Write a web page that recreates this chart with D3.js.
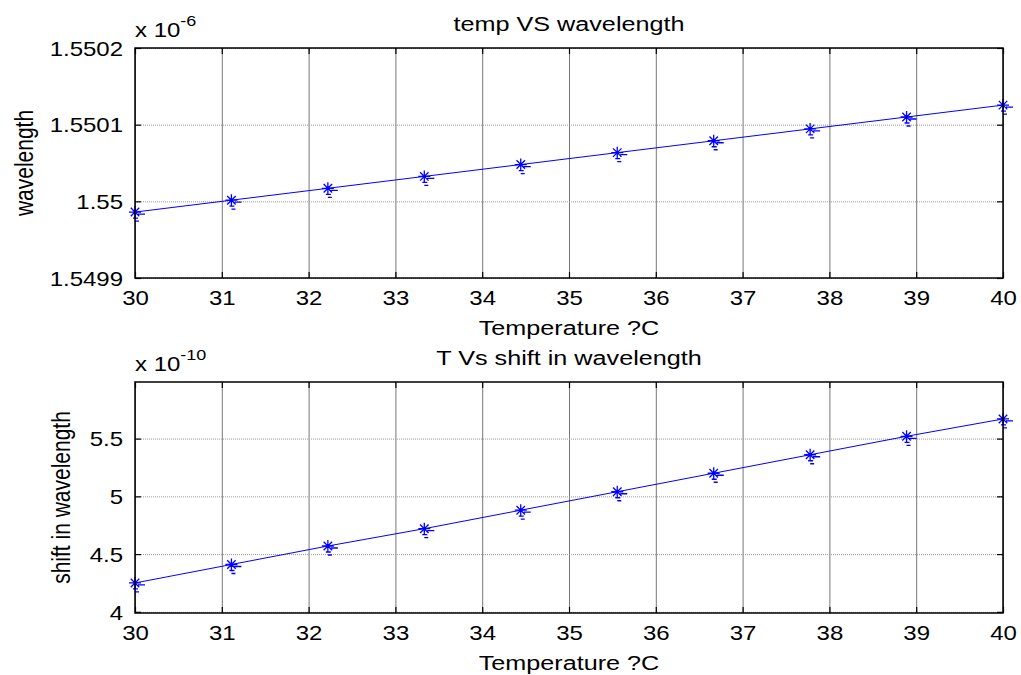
<!DOCTYPE html>
<html>
<head>
<meta charset="utf-8">
<script src="https://cdn.jsdelivr.net/npm/d3@7"></script>
<style>
  body { margin: 0; background: #fff; }
  svg { display: block; font-family: "Liberation Sans", Arial, sans-serif; }
</style>
</head>
<body>
<svg id="fig" width="1021" height="675"></svg>
<script>
// temperature samples (linspace 30..40, 10 points)
var temps = [30, 31.111, 32.222, 33.333, 34.444, 35.556, 36.667, 37.778, 38.889, 40];
// wavelength, units of 1e-6
var wavelength = [1.549986, 1.5500015, 1.550017, 1.5500325, 1.550048, 1.5500635, 1.550079, 1.5500945, 1.55011, 1.5501255];
// shift in wavelength, units of 1e-10
var shift = [4.25, 4.41, 4.57, 4.72, 4.88, 5.04, 5.20, 5.36, 5.52, 5.67];

var xTicks = [30, 31, 32, 33, 34, 35, 36, 37, 38, 39, 40];
var wlTicks = [1.5499, 1.55, 1.5501, 1.5502];
var shiftTicks = [4, 4.5, 5, 5.5];

var svg = d3.select("#fig"),
    left = 135, right = 1003,
    sx = 1.2; // the source figure is stretched sideways

var x = d3.scaleLinear().domain([30, 40]).range([left, right]);

function panel(opt) {
  var y = d3.scaleLinear().domain(opt.domain).range([opt.bottom, opt.top]);
  var h = opt.bottom - opt.top;
  var g = svg.append("g");

  // grid
  g.append("g")
      .attr("transform", "translate(0," + opt.bottom + ")")
      .call(d3.axisBottom(x).tickValues(xTicks).tickSize(-h).tickFormat(""))
      .call(function (a) {
        a.select(".domain").remove();
        a.selectAll("line").attr("stroke", "#777").attr("stroke-width", 1);
      });
  g.append("g")
      .attr("transform", "translate(" + left + ",0)")
      .call(d3.axisLeft(y).tickValues(opt.ticks).tickSize(-(right - left)).tickFormat(""))
      .call(function (a) {
        a.select(".domain").remove();
        a.selectAll("line").attr("stroke", "#999").attr("stroke-dasharray", "1,1");
      });

  // line + markers
  var pts = temps.map(function (t, i) { return [t, opt.values[i]]; });
  g.append("path")
      .datum(pts)
      .attr("fill", "none")
      .attr("stroke", "#0000ff")
      .attr("stroke-width", 1)
      .attr("d", d3.line().x(function (d) { return x(d[0]); }).y(function (d) { return y(d[1]); }));

  var r = 6, k = r * 0.707;
  var star = "M" + (-r) + ",0H" + r + "M0," + (-r) + "V" + r +
             "M" + (-k) + "," + (-k) + "L" + k + "," + k +
             "M" + (-k) + "," + k + "L" + k + "," + (-k) +
             "M3,2H10M-2,6H3M0,9H4";
  g.selectAll(".mk")
      .data(pts)
    .enter().append("path")
      .attr("class", "mk")
      .attr("transform", function (d) { return "translate(" + x(d[0]) + "," + y(d[1]) + ")"; })
      .attr("d", star)
      .attr("fill", "none")
      .attr("stroke", "#0000ff")
      .attr("stroke-width", 1.3);

  // box
  g.append("rect")
      .attr("x", left).attr("y", opt.top)
      .attr("width", right - left).attr("height", h)
      .attr("fill", "none").attr("stroke", "#000").attr("stroke-width", 1.5);

  // inside ticks on all four sides
  var xb = g.append("g")
      .attr("transform", "translate(0," + opt.bottom + ")")
      .call(d3.axisBottom(x).tickValues(xTicks).tickSizeInner(-6).tickSizeOuter(0).tickFormat(d3.format("d")));
  xb.select(".domain").remove();
  xb.selectAll("line").attr("stroke", "#000").attr("stroke-width", 1.2);
  xb.selectAll("text")
      .attr("y", 27).attr("dy", 0)
      .attr("fill", "#000")
      .style("font-size", "20px")
      .attr("transform", "scale(" + sx + ",1)");

  g.append("g")
      .attr("transform", "translate(0," + opt.top + ")")
      .call(d3.axisTop(x).tickValues(xTicks).tickSizeInner(-6).tickSizeOuter(0).tickFormat(""))
      .call(function (a) { a.select(".domain").remove(); a.selectAll("line").attr("stroke", "#000").attr("stroke-width", 1.2); });

  var yl = g.append("g")
      .attr("transform", "translate(" + left + ",0)")
      .call(d3.axisLeft(y).tickValues(opt.ticks).tickSizeInner(-6).tickSizeOuter(0).tickFormat(opt.fmt));
  yl.select(".domain").remove();
  yl.selectAll("line").attr("stroke", "#000").attr("stroke-width", 1.2);
  yl.selectAll("text")
      .attr("x", -10).attr("dy", "0.36em")
      .attr("fill", "#000")
      .style("font-size", "20px")
      .attr("transform", "scale(" + sx + ",1)");

  g.append("g")
      .attr("transform", "translate(" + right + ",0)")
      .call(d3.axisRight(y).tickValues(opt.ticks).tickSizeInner(-6).tickSizeOuter(0).tickFormat(""))
      .call(function (a) { a.select(".domain").remove(); a.selectAll("line").attr("stroke", "#000").attr("stroke-width", 1.2); });

  var cx = (left + right) / 2;
  g.append("text")
      .attr("transform", "translate(" + cx + "," + (opt.top - 17) + ") scale(" + sx + ",1)")
      .attr("text-anchor", "middle")
      .style("font-size", "21px")
      .text(opt.title);

  g.append("text")
      .attr("transform", "translate(" + cx + "," + (opt.bottom + 57) + ") scale(" + sx + ",1)")
      .attr("text-anchor", "middle")
      .style("font-size", "21px")
      .text("Temperature ?C");

  g.append("text")
      .attr("transform", "translate(" + opt.ylabX + "," + (opt.top + h / 2) + ") rotate(-90) scale(1," + sx + ")")
      .attr("text-anchor", "middle")
      .style("font-size", "21px")
      .text(opt.ylabel);

  var ex = g.append("text")
      .attr("transform", "translate(" + left + "," + (opt.top - 11) + ") scale(" + sx + ",1)")
      .style("font-size", "20px");
  ex.append("tspan").text("x 10");
  ex.append("tspan").attr("dy", -11).style("font-size", "15px").text(opt.exp);
}

panel({
  top: 48, bottom: 278,
  domain: [1.5499, 1.5502],
  ticks: wlTicks,
  values: wavelength,
  fmt: function (d) { return String(+d.toFixed(4)); },
  title: "temp VS wavelength",
  ylabel: "wavelength",
  ylabX: 33,
  exp: "-6"
});

panel({
  top: 382, bottom: 613,
  domain: [3.99, 5.99],
  ticks: shiftTicks,
  values: shift,
  fmt: function (d) { return String(d); },
  title: "T Vs shift in wavelength",
  ylabel: "shift in wavelength",
  ylabX: 70,
  exp: "-10"
});
</script>
</body>
</html>
